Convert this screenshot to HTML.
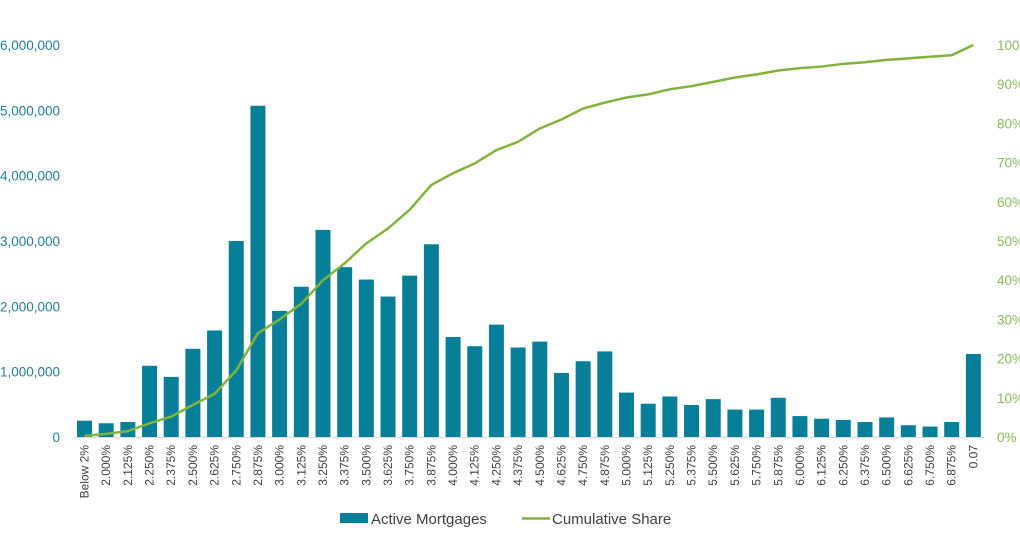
<!DOCTYPE html>
<html><head><meta charset="utf-8"><style>
body{margin:0;background:#fff;}
svg{display:block;font-family:"Liberation Sans",sans-serif;}
</style></head><body>
<svg id="chart" width="1020" height="541"></svg>
<script>
const categories=["Below 2%","2.000%","2.125%","2.250%","2.375%","2.500%","2.625%","2.750%","2.875%","3.000%","3.125%","3.250%","3.375%","3.500%","3.625%","3.750%","3.875%","4.000%","4.125%","4.250%","4.375%","4.500%","4.625%","4.750%","4.875%","5.000%","5.125%","5.250%","5.375%","5.500%","5.625%","5.750%","5.875%","6.000%","6.125%","6.250%","6.375%","6.500%","6.625%","6.750%","6.875%","0.07"];
const activeMortgages=[250000,210000,230000,1090000,920000,1350000,1630000,3000000,5070000,1930000,2300000,3170000,2600000,2410000,2150000,2470000,2950000,1530000,1390000,1720000,1370000,1460000,980000,1160000,1310000,680000,510000,620000,490000,580000,420000,420000,600000,320000,280000,260000,230000,300000,180000,160000,230000,1270000];
const cumulativeShare=[0.3,0.8,1.5,3.5,5.2,8.2,11,17,26.5,30,34,40,44.3,49.4,53.2,58,64.3,67.3,69.8,73.2,75.3,78.7,81,83.8,85.3,86.6,87.4,88.7,89.5,90.6,91.7,92.5,93.5,94.1,94.5,95.2,95.6,96.2,96.6,97,97.4,100];
const leftTicks=[0,1000000,2000000,3000000,4000000,5000000,6000000];
const leftTickLabels=["0","1,000,000","2,000,000","3,000,000","4,000,000","5,000,000","6,000,000"];
const rightTicks=[0,10,20,30,40,50,60,70,80,90,100];
const rightTickLabels=["0%","10%","20%","30%","40%","50%","60%","70%","80%","90%","100%"];

const svg=document.getElementById('chart');
const NS='http://www.w3.org/2000/svg';
const y0=437,yTop=45,x0=84.5,pitch=21.68,bw=15;
const yL=v=>y0-(v/6000000)*(y0-yTop);
const yR=v=>y0-(v/100)*(y0-yTop);
const xC=i=>x0+i*pitch;
function mk(t,a){const e=document.createElementNS(NS,t);for(const k in a)e.setAttribute(k,a[k]);svg.appendChild(e);return e;}

const ax=mk('line',{x1:74,x2:984,y1:y0+0.5,y2:y0+0.5,stroke:'#d9d9d9','stroke-width':1});



leftTicks.forEach((v,i)=>{
  const t=mk('text',{x:60,y:yL(v)+5,'text-anchor':'end','font-size':13.5,fill:'#1f7f95'});
  t.textContent=leftTickLabels[i];
  
  
});
rightTicks.forEach((v,i)=>{
  const t=mk('text',{x:997,y:yR(v)+5,'font-size':13.5,fill:'#8cb85a'});
  t.textContent=rightTickLabels[i];
  
  
});
activeMortgages.forEach((v,i)=>{
  const r=mk('rect',{x:xC(i)-bw/2,y:yL(v),width:bw,height:y0-yL(v),fill:'#087f99'});
  
  
});
categories.forEach((c,i)=>{
  const t=mk('text',{x:0,y:0,'text-anchor':'end','font-size':12,fill:'#404040',transform:`translate(${xC(i)+4},445) rotate(-90)`});
  t.textContent=c;
  
  
});
const pts=cumulativeShare.map((v,i)=>xC(i)+','+yR(v)).join(' ');
const pl=mk('polyline',{points:pts,fill:'none',stroke:'#80b43c','stroke-width':2.5,'stroke-linejoin':'round'});



const g1=mk('rect',{x:340,y:513,width:28,height:10,fill:'#087f99'});


const t1=mk('text',{x:371,y:524,'font-size':15,fill:'#404040'});t1.textContent='Active Mortgages';


const g2=mk('line',{x1:522,x2:550,y1:518.5,y2:518.5,stroke:'#80b43c','stroke-width':2.5});


const t2=mk('text',{x:552,y:524,'font-size':15,fill:'#404040'});t2.textContent='Cumulative Share';


</script>
</body></html>
